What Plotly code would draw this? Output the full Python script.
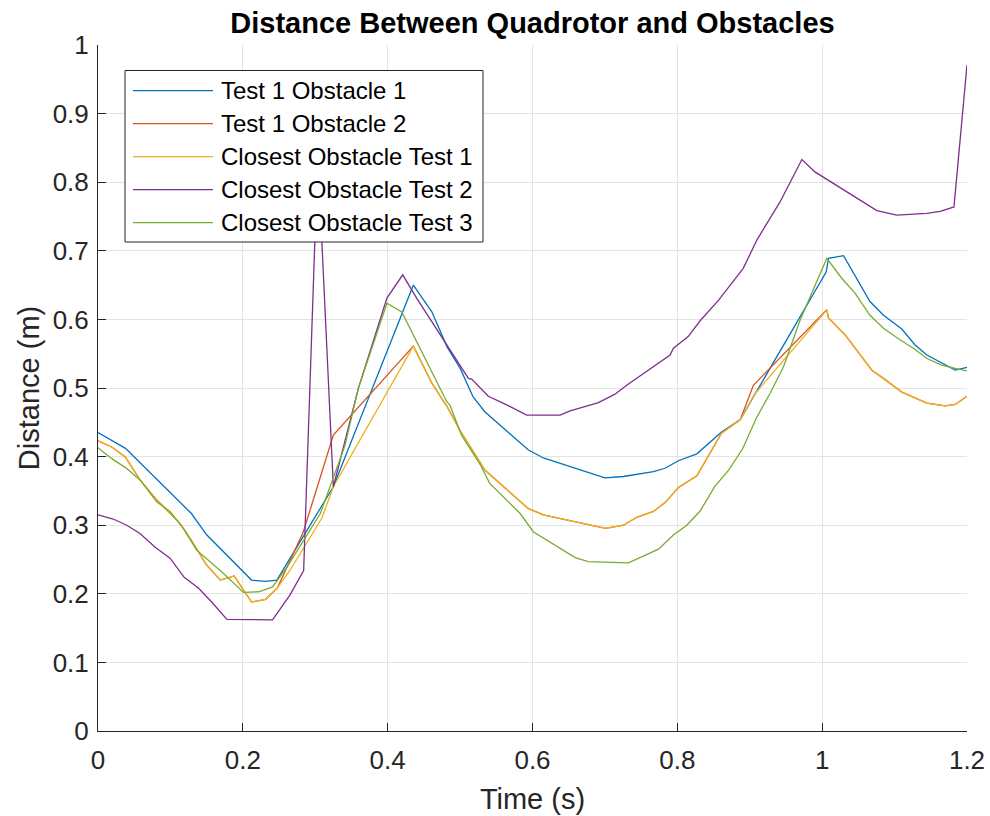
import plotly.graph_objects as go

# ---------------- data ----------------
t1o1_x = [0, 0.019, 0.038, 0.129, 0.150, 0.212, 0.231, 0.247, 0.325, 0.4355, 0.461, 0.482, 0.500, 0.518,
          0.5345, 0.594, 0.615, 0.700, 0.7256, 0.767, 0.783, 0.8015, 0.827, 0.861, 0.887, 0.905, 1.0055,
          1.0088, 1.0295, 1.066, 1.0847, 1.110, 1.128, 1.1446, 1.165, 1.1837, 1.200]
t1o1_y = [0.435, 0.424, 0.412, 0.317, 0.286, 0.220, 0.218, 0.220, 0.356, 0.650, 0.611, 0.560, 0.529, 0.487,
          0.465, 0.410, 0.398, 0.369, 0.371, 0.378, 0.383, 0.394, 0.404, 0.436, 0.454, 0.487, 0.669,
          0.689, 0.693, 0.626, 0.606, 0.586, 0.563, 0.548, 0.537, 0.526, 0.530]

t1o2_x = [0, 0.019, 0.038, 0.058, 0.081, 0.113, 0.129, 0.150, 0.169, 0.188, 0.212, 0.2315, 0.248, 0.2836,
          0.325, 0.4355, 0.461, 0.482, 0.501, 0.5345, 0.594, 0.615, 0.701, 0.7256, 0.744, 0.767, 0.783,
          0.8015, 0.827, 0.861, 0.887, 0.905, 1.0064, 1.0088, 1.032, 1.0686, 1.0847, 1.110, 1.1446, 1.170,
          1.1837, 1.200]
t1o2_y = [0.423, 0.414, 0.399, 0.366, 0.337, 0.303, 0.278, 0.242, 0.220, 0.226, 0.188, 0.192, 0.209, 0.2905,
          0.4315, 0.561, 0.507, 0.473, 0.436, 0.380, 0.3245, 0.315, 0.2955, 0.300, 0.3115, 0.320, 0.333,
          0.355, 0.372, 0.434, 0.454, 0.504, 0.614, 0.602, 0.577, 0.526, 0.514, 0.494, 0.478, 0.474,
          0.476, 0.488]

ct1_x = [0, 0.019, 0.038, 0.058, 0.081, 0.113, 0.129, 0.150, 0.169, 0.188, 0.212, 0.2315, 0.248, 0.265,
         0.309, 0.325, 0.4355, 0.461, 0.482, 0.501, 0.5345, 0.594, 0.615, 0.701, 0.7256, 0.744, 0.767, 0.783,
         0.8015, 0.827, 0.861, 0.887, 0.9075, 1.0064, 1.0088, 1.032, 1.0686, 1.0847, 1.110, 1.1446, 1.170,
         1.1837, 1.200]
ct1_y = [0.423, 0.414, 0.399, 0.366, 0.337, 0.303, 0.278, 0.242, 0.220, 0.226, 0.188, 0.192, 0.209, 0.234,
         0.310, 0.356, 0.561, 0.507, 0.473, 0.436, 0.380, 0.3245, 0.315, 0.2955, 0.300, 0.3115, 0.320, 0.333,
         0.355, 0.372, 0.434, 0.454, 0.492, 0.614, 0.602, 0.577, 0.526, 0.514, 0.494, 0.478, 0.474,
         0.476, 0.488]

ct2_x = [0, 0.021, 0.0396, 0.058, 0.079, 0.0995, 0.119, 0.139, 0.157, 0.178, 0.241, 0.265, 0.284, 0.3035,
         0.325, 0.3435, 0.3595, 0.399, 0.4208, 0.440, 0.4816, 0.5115, 0.516, 0.539, 0.560, 0.592, 0.638,
         0.652, 0.691, 0.714, 0.730, 0.790, 0.7946, 0.815, 0.8315, 0.857, 0.891, 0.910, 0.942, 0.972,
         0.990, 1.0755, 1.103, 1.1446, 1.163, 1.182, 1.200]
ct2_y = [0.315, 0.309, 0.300, 0.288, 0.268, 0.252, 0.224, 0.208, 0.188, 0.1627, 0.162, 0.198, 0.234, 0.84,
         0.356, 0.434, 0.4995, 0.631, 0.665, 0.631, 0.5627, 0.514, 0.513, 0.488, 0.4777, 0.4606, 0.4606,
         0.4665, 0.4786, 0.491, 0.504, 0.548, 0.558, 0.575, 0.598, 0.628, 0.6745, 0.716, 0.7716, 0.833,
         0.815, 0.7585, 0.752, 0.7546, 0.7575, 0.764, 0.971]

ct3_x = [0, 0.019, 0.038, 0.058, 0.081, 0.0995, 0.118, 0.136, 0.173, 0.201, 0.222, 0.241, 0.261, 0.281,
         0.307, 0.341, 0.3595, 0.399, 0.4195, 0.4816, 0.486, 0.502, 0.528, 0.541, 0.583, 0.601, 0.659,
         0.677, 0.7325, 0.774, 0.7946, 0.813, 0.8315, 0.852, 0.8706, 0.890, 0.910, 0.928, 0.9466, 0.9696,
         1.0064, 1.027, 1.0456, 1.066, 1.0847, 1.108, 1.126, 1.1446, 1.165, 1.1837, 1.200]
ct3_y = [0.413, 0.397, 0.384, 0.366, 0.334, 0.320, 0.295, 0.264, 0.230, 0.202, 0.203, 0.210, 0.239, 0.273,
         0.317, 0.416, 0.4995, 0.6235, 0.611, 0.480, 0.475, 0.431, 0.388, 0.361, 0.317, 0.2905, 0.2527,
         0.247, 0.245, 0.265, 0.2857, 0.300, 0.3207, 0.357, 0.380, 0.411, 0.458, 0.492, 0.531, 0.599,
         0.689, 0.660, 0.638, 0.606, 0.587, 0.570, 0.558, 0.543, 0.5335, 0.5287, 0.525]

series_names = ["Test 1 Obstacle 1", "Test 1 Obstacle 2", "Closest Obstacle Test 1",
                "Closest Obstacle Test 2", "Closest Obstacle Test 3"]
series_colors = ["#0072BD", "#D95319", "#EDB120", "#7E2F8E", "#77AC30"]
series_x = [t1o1_x, t1o2_x, ct1_x, ct2_x, ct3_x]
series_y = [t1o1_y, t1o2_y, ct1_y, ct2_y, ct3_y]

x_ticks = [0, 0.2, 0.4, 0.6, 0.8, 1.0, 1.2]
x_ticktext = ["0", "0.2", "0.4", "0.6", "0.8", "1", "1.2"]
y_ticks = [0, 0.1, 0.2, 0.3, 0.4, 0.5, 0.6, 0.7, 0.8, 0.9, 1.0]
y_ticktext = ["0", "0.1", "0.2", "0.3", "0.4", "0.5", "0.6", "0.7", "0.8", "0.9", "1"]

# ---------------- layout geometry ----------------
W, H = 990, 816
L, R, T, B = 98, 967, 45, 731
FONT = "Liberation Sans, Arial, Helvetica, sans-serif"
AX = "#262626"

def px_x(p):
    return (p - L) / (R - L)

def px_y(p):
    return (B - p) / (B - T)

fig = go.Figure()
for name, col, xs, ys in zip(series_names, series_colors, series_x, series_y):
    fig.add_trace(go.Scatter(x=xs, y=ys, mode="lines", name=name,
                             line=dict(color=col, width=1.3), showlegend=False,
                             cliponaxis=False))

# manual MATLAB-style legend
shapes = [dict(type="rect", xref="paper", yref="paper",
               x0=px_x(125), x1=px_x(483), y0=px_y(242), y1=px_y(70.5),
               fillcolor="white", line=dict(color=AX, width=1), layer="above")]
annotations = []
for i, (name, col) in enumerate(zip(series_names, series_colors)):
    yc = 90.7 + 33.0 * i
    shapes.append(dict(type="line", xref="paper", yref="paper",
                       x0=px_x(133), x1=px_x(213), y0=px_y(yc), y1=px_y(yc),
                       line=dict(color=col, width=1.3), layer="above"))
    annotations.append(dict(xref="paper", yref="paper", x=px_x(219), y=px_y(yc),
                            text=name, showarrow=False, xanchor="left", yanchor="middle",
                            font=dict(family=FONT, size=24, color="black")))

fig.update_layout(
    width=W, height=H,
    margin=dict(l=L, r=W - R, t=T, b=H - B),
    paper_bgcolor="white", plot_bgcolor="white",
    title=dict(text="<b>Distance Between Quadrotor and Obstacles</b>",
               x=0.5, xref="paper", y=1 - 23 / H, yref="container",
               xanchor="center", yanchor="middle",
               font=dict(family=FONT, size=29, color="black")),
    xaxis=dict(range=[0, 1.2], tickvals=x_ticks, ticktext=x_ticktext,
               showgrid=True, gridcolor="#e3e3e3", gridwidth=1,
               showline=True, linecolor=AX, linewidth=1, mirror=False,
               ticks="inside", ticklen=8, tickcolor=AX, tickwidth=1,
               tickfont=dict(family=FONT, size=26, color=AX),
               zeroline=False, ticklabelstandoff=6, automargin=False,
               title=dict(text="Time (s)", standoff=14,
                          font=dict(family=FONT, size=29, color=AX))),
    yaxis=dict(range=[0, 1], tickvals=y_ticks, ticktext=y_ticktext,
               showgrid=True, gridcolor="#e3e3e3", gridwidth=1,
               showline=True, linecolor=AX, linewidth=1, mirror=False,
               ticks="inside", ticklen=8, tickcolor=AX, tickwidth=1,
               tickfont=dict(family=FONT, size=26, color=AX),
               zeroline=False, ticklabelstandoff=3, automargin=False,
               title=dict(text="Distance (m)", standoff=4,
                          font=dict(family=FONT, size=29, color=AX))),
    shapes=shapes,
    annotations=annotations,
)

# remove the default 8px page margin so the 990x816 figure fills the window exactly
fig.write_html("out.html",
               config={"displayModeBar": False},
               post_script="document.body.style.margin='0px';document.body.style.overflow='hidden';")
